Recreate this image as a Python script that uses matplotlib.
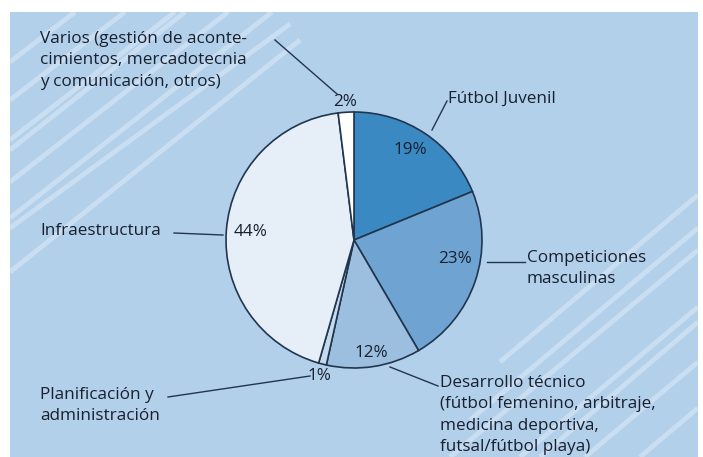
import numpy as np
import matplotlib.pyplot as plt
from matplotlib.patches import Rectangle

plt.rcParams['font.family'] = ['Open Sans', 'DejaVu Sans']

# datos del gráfico
categorias = ['Fútbol Juvenil', 'Competiciones masculinas', 'Desarrollo técnico',
              'Planificación y administración', 'Infraestructura', 'Varios']
valores = [19, 23, 12, 1, 44, 2]
etiquetas_pct = ['19%', '23%', '12%', '1%', '44%', '2%']
colores = ['#3a89c2', '#6fa4d2', '#9dbfdf', '#c6daee', '#e6eff8', '#ffffff']

W, H = 703, 457
TXT = '#18202f'
LINEA = '#22354f'
FS = 12.3


def py(y):
    # coordenada en píxeles (desde arriba) -> datos
    return H - y


fig = plt.figure(figsize=(7.03, 4.57), dpi=100)
fig.patch.set_facecolor('white')
ax = fig.add_axes([0, 0, 1, 1])

# fondo azul con franjas diagonales
panel = Rectangle((10, 0), 688, py(12), facecolor='#b3d0eb', edgecolor='none', zorder=0)
ax.add_patch(panel)
franjas = [
    # arriba a la izquierda
    (10, 62, 75, 12), (10, 100, 125, 12), (10, 140, 175, 12), (10, 150, 185, 12),
    (10, 182, 228, 12), (10, 218, 272, 12), (10, 228, 290, 24), (10, 272, 300, 40),
    # abajo a la derecha
    (500, 362, 698, 195), (470, 420, 698, 228), (450, 457, 698, 250),
    (520, 457, 698, 307), (540, 457, 698, 322), (585, 457, 698, 362),
    (640, 457, 698, 408),
]
for x0, y0, x1, y1 in franjas:
    l, = ax.plot([x0, x1], [py(y0), py(y1)], color='white', alpha=0.3, lw=3.5,
                 solid_capstyle='butt', zorder=1)
    l.set_clip_path(panel)

# tarta
cx, cy, r = 354, 240, 128
wedges, _ = ax.pie(valores, colors=colores, startangle=90, counterclock=False,
                   center=(cx, py(cy)), radius=r,
                   wedgeprops=dict(edgecolor=LINEA, linewidth=1.2))
for w in wedges:
    w.set_zorder(3)

# porcentajes: (radio relativo, desplazamiento angular)
pos_pct = [(0.83, 2), (0.80, 8), (0.89, 0), (1.10, 0), (0.81, 0), (1.08, 0)]
for w, txt, (rr, dang) in zip(wedges, etiquetas_pct, pos_pct):
    ang = np.deg2rad((w.theta1 + w.theta2) / 2 + dang)
    ax.text(cx + rr * r * np.cos(ang), py(cy) + rr * r * np.sin(ang), txt,
            ha='center', va='center', fontsize=FS, color=TXT, zorder=5)

# etiquetas con líneas guía
textos = [
    ('Varios (gestión de aconte-\ncimientos, mercadotecnia\ny comunicación, otros)', 40, 37,
     [(275, 40), (337, 94)]),
    ('Fútbol Juvenil', 448, 97, [(447, 101), (432, 130)]),
    ('Competiciones\nmasculinas', 527, 256, [(487, 262), (525, 262)]),
    ('Infraestructura', 40, 229, [(174, 233), (223, 235)]),
    ('Desarrollo técnico\n(fútbol femenino, arbitraje,\nmedicina deportiva,\nfutsal/fútbol playa)',
     440, 381, [(390, 367), (438, 386)]),
    ('Planificación y\nadministración', 40, 393, [(168, 397), (310, 376)]),
]
for s, x, y, pts in textos:
    ax.text(x, py(y) + 6, s, ha='left', va='top', fontsize=FS, color=TXT,
            linespacing=1.44, zorder=5)
    ax.plot([p[0] for p in pts], [py(p[1]) for p in pts], color=LINEA, lw=1.0, zorder=4)

ax.set_xlim(0, W)
ax.set_ylim(0, H)
ax.set_aspect('equal')
ax.axis('off')

fig.savefig('out.png', dpi=100)
